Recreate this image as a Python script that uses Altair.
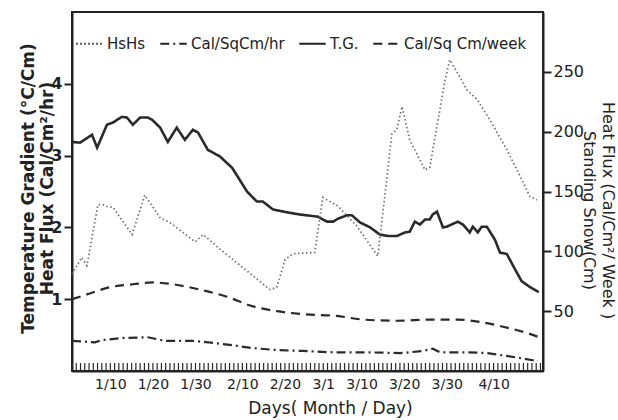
import altair as alt
import pandas as pd

# ---------------- data ----------------
# x = day of year (1 = Jan 1)
tick_days = [10, 20, 30, 41, 51, 60, 69, 79, 89, 100]
tick_labels = ["1/10", "1/20", "1/30", "2/10", "2/20", "3/1", "3/10", "3/20", "3/30", "4/10"]
strip_days = list(range(1, 112))

series_names = ["HsHs", "Cal/SqCm/hr", "T.G.", "Cal/Sq Cm/week"]

# Temperature gradient (left axis, °C/cm)
tg_day = [1.0, 2.9, 5.7, 6.9, 9.2, 10.6, 12.7, 13.9, 15.3, 17.0, 18.8, 19.8, 21.7, 23.5, 25.6,
          27.5, 29.4, 30.6, 32.9, 35.7, 38.6, 42.1, 44.4, 45.8, 48.2, 51.5, 54.5, 58.7, 60.9,
          62.3, 63.4, 65.6, 66.7, 68.6, 71.0, 73.3, 75.2, 77.3, 79.2, 80.3, 81.5, 82.7, 83.9,
          85.0, 85.7, 86.7, 88.1, 89.0, 91.6, 92.8, 94.4, 95.1, 96.3, 97.2, 98.4, 100.3, 101.5,
          103.1, 105.0, 106.6, 108.5, 110.6]
tg_val = [3.19, 3.18, 3.29, 3.11, 3.43, 3.46, 3.54, 3.53, 3.43, 3.53, 3.53, 3.50, 3.39, 3.19, 3.39,
          3.22, 3.36, 3.32, 3.08, 2.99, 2.83, 2.50, 2.36, 2.36, 2.25, 2.21, 2.18, 2.15, 2.08,
          2.08, 2.12, 2.17, 2.17, 2.07, 2.00, 1.90, 1.88, 1.88, 1.93, 1.94, 2.08, 2.04, 2.11,
          2.11, 2.18, 2.22, 2.00, 2.01, 2.08, 2.04, 1.93, 2.01, 1.93, 2.01, 2.01, 1.83, 1.65,
          1.63, 1.42, 1.25, 1.17, 1.10]

# Heat flux, Cal/cm2/hr (left axis)
hr_day = [1, 6.4, 8.0, 13, 18.8, 22.8, 29.2, 32.9, 38.6, 43.3, 49.4, 55, 62.3, 70.2, 78,
          80.3, 83.4, 85.7, 87.4, 93.7, 98.4, 103.1, 109.2, 110.4]
hr_val = [0.42, 0.40, 0.43, 0.46, 0.47, 0.42, 0.42, 0.40, 0.36, 0.32, 0.29, 0.28, 0.26, 0.26, 0.25,
          0.26, 0.28, 0.31, 0.26, 0.26, 0.25, 0.21, 0.15, 0.14]

# Standing snow HsHs (right axis, cm)
hs_day = [1.0, 3.3, 4.5, 7.1, 8.3, 9.5, 10.6, 15.1, 18.1, 21.7, 24.0, 29.9, 31.8, 35.7, 47.5,
          49.1, 51.0, 52.9, 58.0, 59.9, 63.4, 67.9, 72.8, 74.9, 76.1, 77.3, 78.5, 80.3, 83.9,
          85.0, 88.6, 89.7, 92.5, 93.7, 96.1, 99.1, 103.1, 106.2, 108.5, 110.2]
hs_val = [81, 95, 88, 139, 139, 137, 137, 114, 147, 128, 124, 108, 114, 102, 68,
          70, 93, 98, 99, 145, 138, 121, 96, 160, 198, 202, 221, 193, 168,
          170, 243, 260, 243, 235, 227, 210, 185, 163, 146, 143]

# Heat flux, Cal/cm2/week (right axis)
wk_day = [1, 4.5, 9.9, 15.3, 20, 24.7, 31, 37.4, 43.5, 49.1, 55.2, 63.2, 69.3, 77.3, 85,
          91.4, 96.8, 102.2, 108.5, 110.9]
wk_val = [60, 64, 70, 72.5, 74, 72.5, 68, 62, 54, 50, 47.5, 46, 43, 42, 43,
          43, 41, 37, 31, 28]


def frame(days, vals, name):
    return pd.DataFrame({"d": days, "v": vals, "s": name})


df_tg = frame(tg_day, tg_val, "T.G.")
df_hr = frame(hr_day, hr_val, "Cal/SqCm/hr")
df_hs = frame(hs_day, hs_val, "HsHs")
df_wk = frame(wk_day, wk_val, "Cal/Sq Cm/week")
df_strip = pd.DataFrame({"d": strip_days})

FONT = "DejaVu Sans"
INK = "#222222"

label_expr = "[" + ",".join("'%s'" % t for t in tick_labels) + "][indexof([" + \
    ",".join(str(t) for t in tick_days) + "], datum.value)]"

X = alt.X(
    "d:Q",
    scale=alt.Scale(domain=[1, 111.6], nice=False, zero=False),
    axis=alt.Axis(
        values=tick_days, labelExpr=label_expr, ticks=False, tickSize=0, grid=False,
        labelFontSize=14, labelPadding=6, labelColor=INK, labelFont=FONT,
        domainColor=INK, domainWidth=2,
        title="Days( Month / Day)", titleFontSize=17, titleFontWeight="normal",
        titleColor=INK, titleFont=FONT, titleX=258, titleY=37, titleBaseline="middle",
        titleAlign="center",
    ),
)

dash = alt.StrokeDash(
    "s:N",
    scale=alt.Scale(domain=series_names,
                    range=[[1.5, 2.5], [9, 4, 2, 4], [1, 0], [9, 6]]),
    legend=alt.Legend(
        title=None, orient="none", legendX=3, legendY=17, direction="horizontal",
        columns=4, symbolType="stroke", symbolSize=700, symbolStrokeWidth=2,
        symbolStrokeColor=INK, labelFontSize=15, labelFont=FONT, labelColor=INK,
        labelOffset=3, columnPadding=10, padding=0,
    ),
)

left_axis = alt.Axis(
    values=[1, 2, 3, 4], grid=False, tickSize=8, tickWidth=2, tickColor=INK,
    domainColor=INK, domainWidth=2, labelFontSize=16, labelFontWeight="bold",
    labelColor=INK, labelFont=FONT, labelPadding=2,
    title=["Temperature  Gradient  (°C/Cm)", "Heat  Flux (Cal/Cm²/hr)"],
    titleFontSize=17, titleFontWeight="bold", titleColor=INK, titleFont=FONT,
    titleLineHeight=19, titleAngle=270, titleBaseline="middle", titleAlign="center",
    titleX=-44, titleY=176,
)
right_axis = alt.Axis(
    values=[50, 100, 150, 200, 250], orient="right", grid=False, tickSize=8, tickWidth=2,
    tickColor=INK, domainColor=INK, domainWidth=2, labelFontSize=16,
    labelColor=INK, labelFont=FONT, labelPadding=2,
    title=["Heat Flux (Cal/Cm²/ Week )", "Standing  Snow(Cm)" + " " * 14],
    titleFontSize=16, titleFontWeight="normal", titleColor=INK, titleFont=FONT,
    titleLineHeight=19, titleAngle=90, titleBaseline="middle", titleAlign="center",
    titleX=64, titleY=198,
)

YL = alt.Y("v:Q", scale=alt.Scale(domain=[0, 5], nice=False, zero=True), axis=left_axis)
YR = alt.Y("v:Q", scale=alt.Scale(domain=[0, 300], nice=False, zero=True), axis=right_axis)

tg = alt.Chart(df_tg).mark_line(color="#2a2a2a", strokeWidth=2.6).encode(x=X, y=YL, strokeDash=dash)
hr = alt.Chart(df_hr).mark_line(color="#2a2a2a", strokeWidth=2.2).encode(x=X, y=YL, strokeDash=dash)
strip = alt.Chart(df_strip).mark_rule(color="#2a2a2a", strokeWidth=1.2).encode(
    x=X, y=alt.value(351), y2=alt.value(359))

hs = alt.Chart(df_hs).mark_line(color="#6e6e6e", strokeWidth=1.7).encode(x=X, y=YR, strokeDash=dash)
wk = alt.Chart(df_wk).mark_line(color="#2a2a2a", strokeWidth=2.2, interpolate="monotone").encode(
    x=X, y=YR, strokeDash=dash)

left = alt.layer(tg, hr, strip)
right = alt.layer(hs, wk)

chart = alt.layer(left, right).resolve_scale(y="independent").properties(
    width=471, height=359,
    autosize=alt.AutoSizeParams(type="none"),
    padding={"left": 72, "top": 12, "right": 75, "bottom": 49},
    background="white",
).configure(font=FONT).configure_view(stroke=INK, strokeWidth=2)

chart.save("out.html", embed_options={"renderer": "svg", "actions": False})
